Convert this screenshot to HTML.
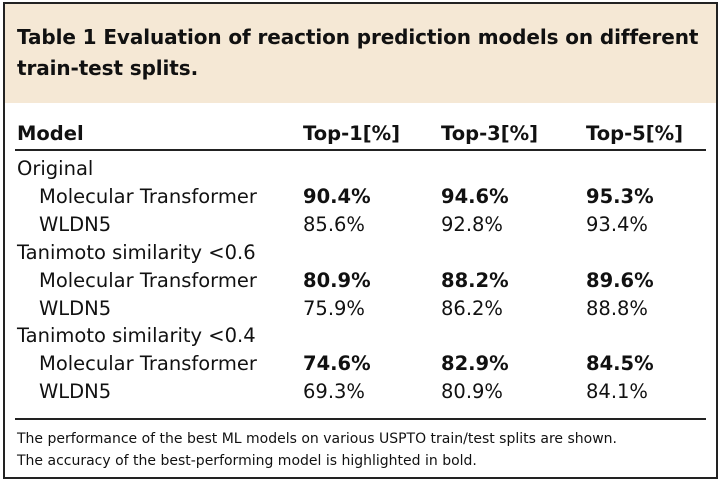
<!DOCTYPE html>
<html><head><style>
body{margin:0;width:720px;height:482px;background:#fff;font-family:"DejaVu Sans","Liberation Sans",sans-serif;color:#111;overflow:hidden}
#box{position:absolute;left:3px;top:2px;width:711px;height:473px;border:2px solid #222;}
#hd{position:absolute;left:0;top:0;width:711px;height:99px;background:#f5e8d5;}
.t{position:absolute;white-space:nowrap}
.title{font-weight:bold;font-size:20px;left:12px;letter-spacing:-0.1px}
.r{font-size:19.5px}
.b{font-weight:bold}
.line{position:absolute;left:10px;width:691px;height:2px;background:#222}
.fn{font-size:14px;left:12px}
</style></head><body>
<div id="box">
<div id="hd"></div>
<div class="t title" style="top:21px">Table 1 Evaluation of reaction prediction models on different</div>
<div class="t title" style="top:52px">train-test splits.</div>
<div class="t r b" style="left:12px;top:118px">Model</div>
<div class="t r b" style="left:298px;top:118px">Top-1[%]</div>
<div class="t r b" style="left:436px;top:118px">Top-3[%]</div>
<div class="t r b" style="left:581px;top:118px">Top-5[%]</div>
<div class="line" style="top:145px"></div>

<div class="t r" style="left:12px;top:153px">Original</div>
<div class="t r" style="left:34px;top:181px">Molecular Transformer</div>
<div class="t r b" style="left:298px;top:181px">90.4%</div>
<div class="t r b" style="left:436px;top:181px">94.6%</div>
<div class="t r b" style="left:581px;top:181px">95.3%</div>
<div class="t r" style="left:34px;top:209px">WLDN5</div>
<div class="t r" style="left:298px;top:209px">85.6%</div>
<div class="t r" style="left:436px;top:209px">92.8%</div>
<div class="t r" style="left:581px;top:209px">93.4%</div>

<div class="t r" style="left:12px;top:237px">Tanimoto similarity &lt;0.6</div>
<div class="t r" style="left:34px;top:265px">Molecular Transformer</div>
<div class="t r b" style="left:298px;top:265px">80.9%</div>
<div class="t r b" style="left:436px;top:265px">88.2%</div>
<div class="t r b" style="left:581px;top:265px">89.6%</div>
<div class="t r" style="left:34px;top:293px">WLDN5</div>
<div class="t r" style="left:298px;top:293px">75.9%</div>
<div class="t r" style="left:436px;top:293px">86.2%</div>
<div class="t r" style="left:581px;top:293px">88.8%</div>

<div class="t r" style="left:12px;top:320px">Tanimoto similarity &lt;0.4</div>
<div class="t r" style="left:34px;top:348px">Molecular Transformer</div>
<div class="t r b" style="left:298px;top:348px">74.6%</div>
<div class="t r b" style="left:436px;top:348px">82.9%</div>
<div class="t r b" style="left:581px;top:348px">84.5%</div>
<div class="t r" style="left:34px;top:376px">WLDN5</div>
<div class="t r" style="left:298px;top:376px">69.3%</div>
<div class="t r" style="left:436px;top:376px">80.9%</div>
<div class="t r" style="left:581px;top:376px">84.1%</div>

<div class="line" style="top:414px"></div>
<div class="t fn" style="top:427px">The performance of the best ML models on various USPTO train/test splits are shown.</div>
<div class="t fn" style="top:449px">The accuracy of the best-performing model is highlighted in bold.</div>
</div>
</body></html>
